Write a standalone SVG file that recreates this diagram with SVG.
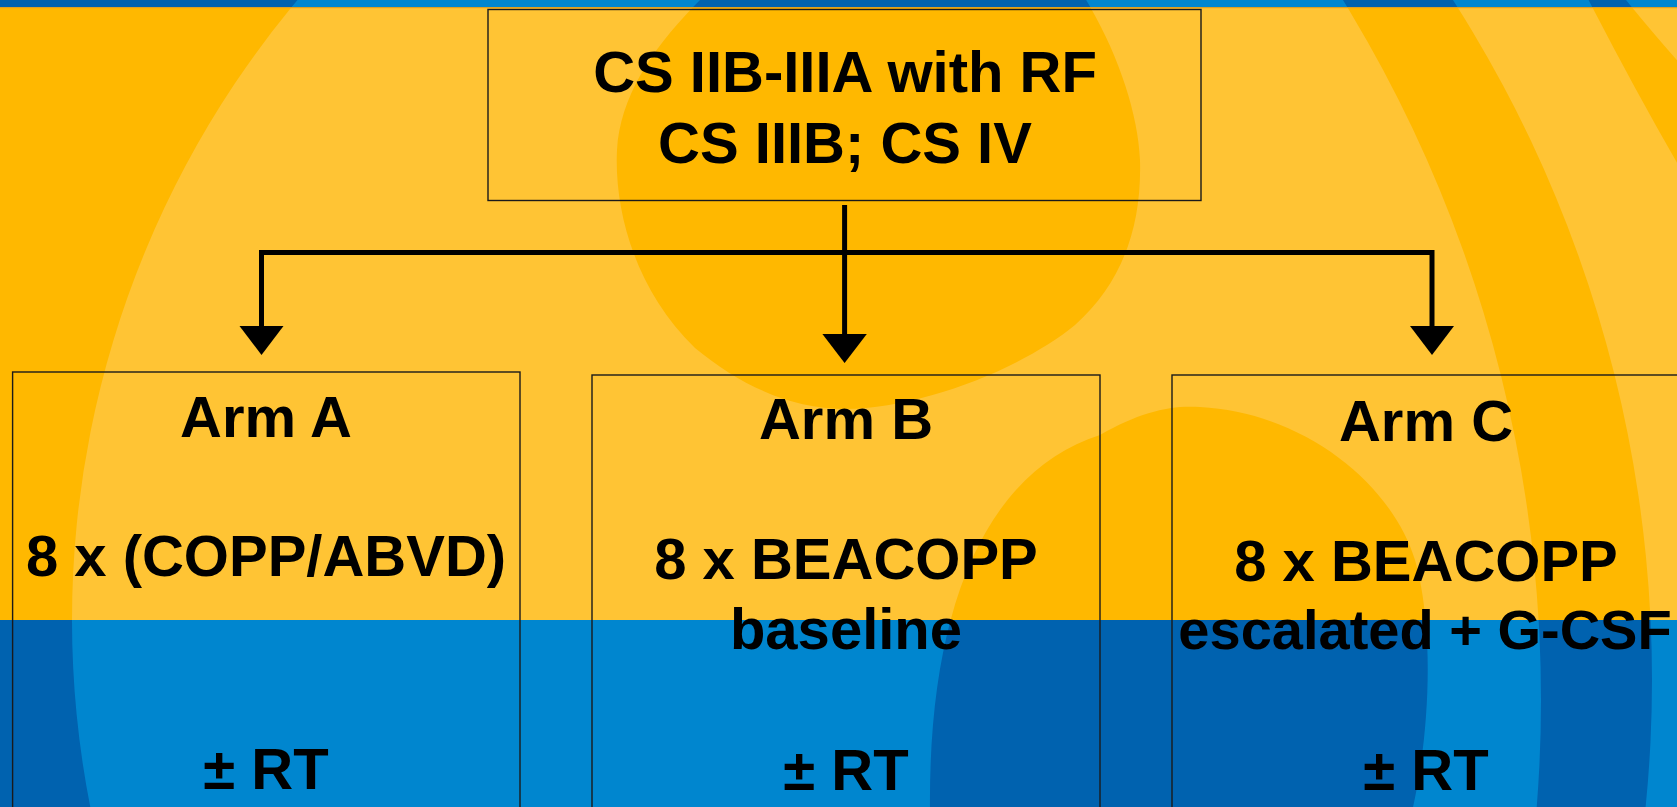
<svg xmlns="http://www.w3.org/2000/svg" xmlns:xlink="http://www.w3.org/1999/xlink" width="1677" height="807" viewBox="0 0 1677 807">
  <style>
    .box { fill: none; stroke: #1a1a1a; stroke-width: 1.4; }
    .t { font-family: "Liberation Sans", Arial, sans-serif; font-weight: bold; font-size: 58px; fill: #000; text-anchor: middle; }
    .conn { fill: none; stroke: #000; stroke-width: 5; }
    .head { fill: #000; }
  </style>
  <defs>
    <clipPath id="clipY"><rect x="0" y="7.5" width="1677" height="612.5"/></clipPath>
    <clipPath id="clipB"><rect x="0" y="0" width="1677" height="7.5"/><rect x="0" y="620" width="1677" height="187"/></clipPath>
    <g id="darkshapes">
      <path fill-rule="evenodd" d="M-10,-10 H1690 V820 H-10 Z M72,620 A965,965 0 1 0 2002,620 A965,965 0 1 0 72,620 Z"/>
      <path d="M700,-10 L700,0 C655,45 620,95 617,150 C614,210 635,290 695,348 C740,385 790,409 846,409 C920,408 1020,370 1075,325 C1120,285 1142,230 1140,160 C1138,110 1115,45 1080,-10 Z"/>
      <path d="M930,820 L930,810 C928,600 990,470 1100,435 C1140,412 1170,405 1200,407 C1300,412 1390,480 1415,560 C1435,630 1430,740 1410,820 Z"/>
      <path fill-rule="evenodd" d="M-870,680 A1261,1261 0 1 0 1652,680 A1261,1261 0 1 0 -870,680 Z M-1131,700 A1336,1336 0 1 0 1541,700 A1336,1336 0 1 0 -1131,700 Z"/>
      <path d="M1586,-5 L1622,-5 Q1650,30 1690,75 L1690,185 Q1640,100 1586,-5 Z"/>
    </g>
  </defs>

  <g id="background">
    <rect x="0" y="0" width="1677" height="620" fill="#FFC434"/>
    <rect x="0" y="620" width="1677" height="187" fill="#0086CF"/>
    <rect x="0" y="0" width="1677" height="7.5" fill="#0086CF"/>
    <use xlink:href="#darkshapes" fill="#FFB800" clip-path="url(#clipY)"/>
    <use xlink:href="#darkshapes" fill="#0062AF" clip-path="url(#clipB)"/>
    <rect x="0" y="7" width="1677" height="1.2" fill="#E0A020"/>
  </g>

  <g id="connectors">
    <path class="conn" d="M261.5,252.5 H1432"/>
    <path class="conn" d="M261.5,250 V327"/>
    <path class="head" d="M239.5,326 L283.5,326 L261.5,355 Z"/>
    <path class="conn" d="M844.6,205 V335"/>
    <path class="head" d="M822.4,334 L866.8,334 L844.6,363 Z"/>
    <path class="conn" d="M1432,250 V327"/>
    <path class="head" d="M1410,326 L1454,326 L1432,355 Z"/>
  </g>

  <g id="node-top">
    <rect class="box" x="488" y="9.5" width="713" height="191"/>
    <text class="t" x="845" y="92">CS IIB-IIIA with RF</text>
    <text class="t" x="845" y="163">CS IIIB; CS IV</text>
  </g>

  <g id="node-armA">
    <rect class="box" x="12.6" y="372" width="507.4" height="445"/>
    <text class="t" x="266" y="437">Arm A</text>
    <text class="t" x="266" y="576">8 x (COPP/ABVD)</text>
    <text class="t" x="266" y="789">± RT</text>
  </g>

  <g id="node-armB">
    <rect class="box" x="592" y="375" width="508" height="445"/>
    <text class="t" x="846" y="439">Arm B</text>
    <text class="t" x="846" y="579">8 x BEACOPP</text>
    <text class="t" x="846" y="649">baseline</text>
    <text class="t" x="846" y="790">± RT</text>
  </g>

  <g id="node-armC">
    <rect class="box" x="1172" y="375" width="520" height="445"/>
    <text class="t" x="1426" y="441">Arm C</text>
    <text class="t" x="1426" y="581">8 x BEACOPP</text>
    <text class="t" x="1425" y="649" style="font-size:56px">escalated + G-CSF</text>
    <text class="t" x="1426" y="790">± RT</text>
  </g>
</svg>
